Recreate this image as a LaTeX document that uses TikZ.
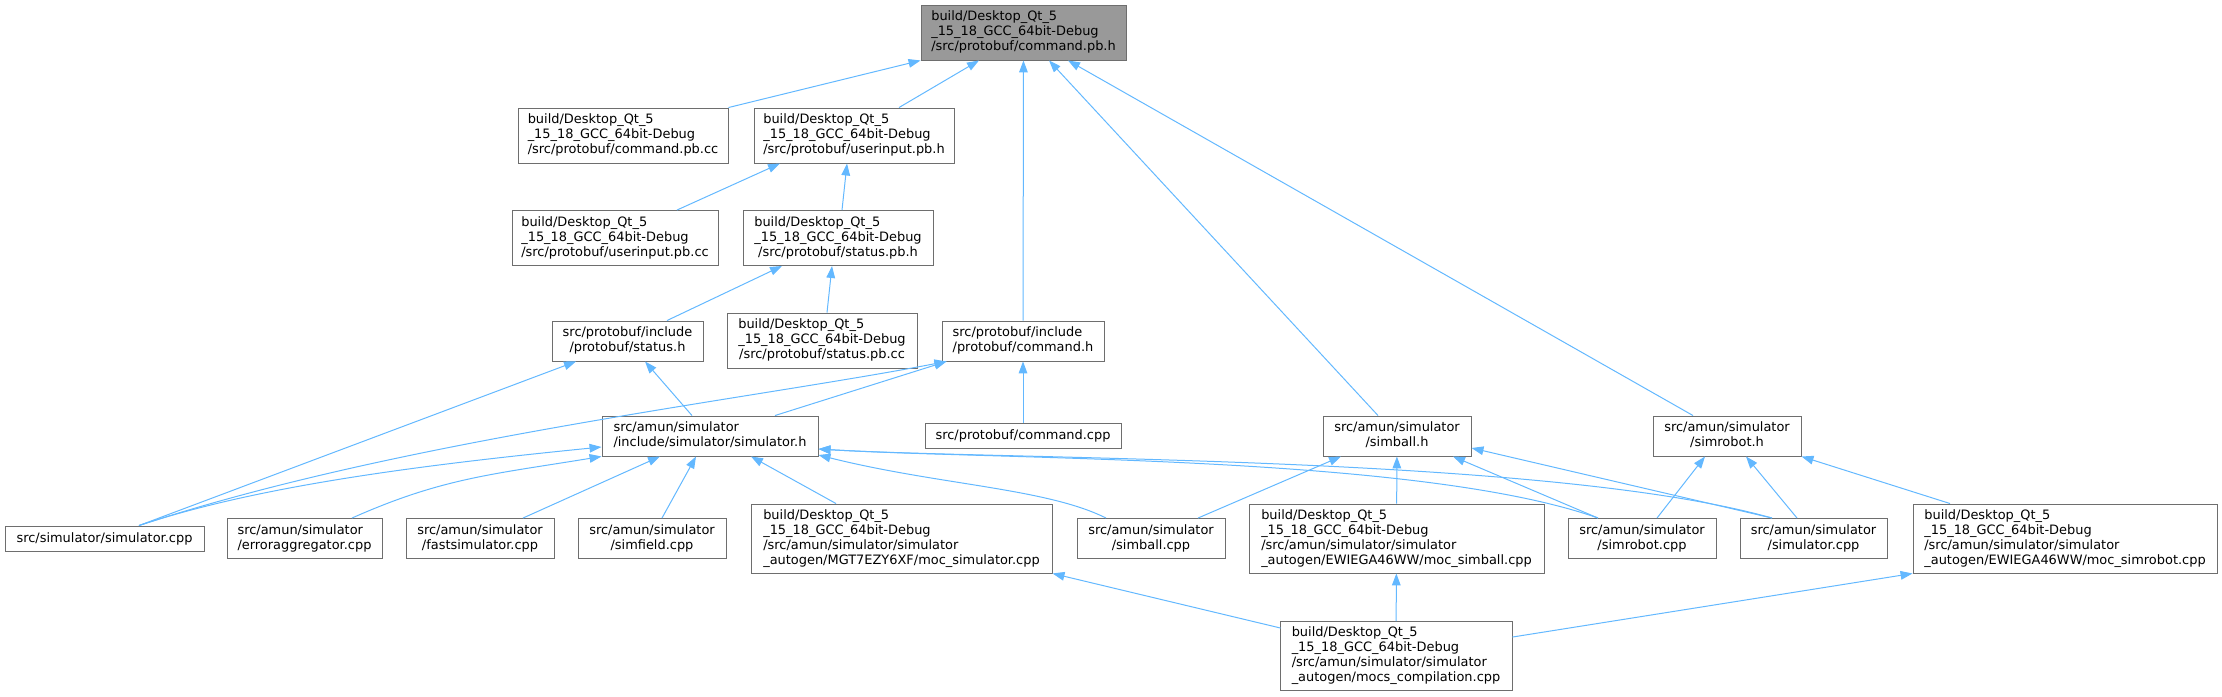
\documentclass[tikz,border=0pt]{standalone}
\usepackage{fontspec}
\setmainfont{DejaVu Sans}
\usepackage{xcolor}
\usepackage{tikz}
\usetikzlibrary{arrows.meta, calc}
\definecolor{depblue}{HTML}{63B8FF}
\definecolor{boxgray}{HTML}{6E6E6E}
\definecolor{rootgray}{HTML}{999999}
% lines left aligned, last line centred
\newcommand{\fname}[2]{\begin{tabular}{@{}l@{}}#1\\\multicolumn{1}{@{}c@{}}{#2}\end{tabular}}
\newcommand{\bdir}{build/Desktop\_Qt\_5\\\_15\_18\_GCC\_64bit-Debug}

\begin{document}
\begin{tikzpicture}[
    x=0.75pt, y=-0.75pt,
    box/.style={draw=boxgray, line width=0.7pt, fill=white, inner sep=1pt,
                font=\fontsize{9.7}{11.25}\selectfont},
    h1/.style={minimum height=18.75pt},
    h2/.style={minimum height=30pt},
    h3/.style={minimum height=41.25pt},
    h4/.style={minimum height=51.75pt},
    dep/.style={-{Triangle[length=9pt,width=6.5pt]}, draw=depblue, line width=0.75pt}
  ]
    \useasboundingbox (0,0) rectangle (2222,696);

    \node[box,h3,fill=rootgray,minimum width=153.75pt] (root) at (1023.5,32.5)
      {\fname{\bdir}{/src/protobuf/command.pb.h}};

    \node[box,h3,minimum width=157.5pt] (cmdpbcc) at (623,135.5)
      {\fname{\bdir}{/src/protobuf/command.pb.cc}};
    \node[box,h3,minimum width=150pt] (uipbh) at (854,135.5)
      {\fname{\bdir}{/src/protobuf/userinput.pb.h}};

    \node[box,h3,minimum width=154.5pt] (uipbcc) at (615,238)
      {\fname{\bdir}{/src/protobuf/userinput.pb.cc}};
    \node[box,h3,minimum width=142.5pt] (statuspbh) at (838,238)
      {\fname{\bdir}{/src/protobuf/status.pb.h}};

    \node[box,h2,minimum width=113.25pt] (statush) at (627.5,341)
      {\fname{src/protobuf/include}{/protobuf/status.h}};
    \node[box,h3,minimum width=142.5pt] (statuspbcc) at (822,340.5)
      {\fname{\bdir}{/src/protobuf/status.pb.cc}};
    \node[box,h2,minimum width=121.5pt] (commandh) at (1023,341)
      {\fname{src/protobuf/include}{/protobuf/command.h}};

    \node[box,h1,minimum width=147pt] (commandcpp) at (1023,436) {src/protobuf/command.cpp};
    \node[box,h2,minimum width=162pt] (simh) at (710,436)
      {\fname{src/amun/simulator}{/include/simulator/simulator.h}};
    \node[box,h2,minimum width=111pt] (simballh) at (1397,436)
      {\fname{src/amun/simulator}{/simball.h}};
    \node[box,h2,minimum width=111pt] (simroboth) at (1727,436)
      {\fname{src/amun/simulator}{/simrobot.h}};

    \node[box,h1,minimum width=149.25pt] (simcpp) at (104.5,538.5) {src/simulator/simulator.cpp};
    \node[box,h2,minimum width=116.25pt] (erragg) at (304.5,538.5)
      {\fname{src/amun/simulator}{/erroraggregator.cpp}};
    \node[box,h2,minimum width=111pt] (fastsim) at (480,538.5)
      {\fname{src/amun/simulator}{/fastsimulator.cpp}};
    \node[box,h2,minimum width=111pt] (simfield) at (652,538.5)
      {\fname{src/amun/simulator}{/simfield.cpp}};
    \node[box,h4,minimum width=225.75pt] (mocsim) at (901.5,538.5)
      {\fname{\bdir\\/src/amun/simulator/simulator}{\_autogen/MGT7EZY6XF/moc\_simulator.cpp}};
    \node[box,h2,minimum width=111pt] (simballcpp) at (1151,538.5)
      {\fname{src/amun/simulator}{/simball.cpp}};
    \node[box,h4,minimum width=221.25pt] (mocsimball) at (1396.5,538.5)
      {\fname{\bdir\\/src/amun/simulator/simulator}{\_autogen/EWIEGA46WW/moc\_simball.cpp}};
    \node[box,h2,minimum width=111pt] (simrobotcpp) at (1642,538.5)
      {\fname{src/amun/simulator}{/simrobot.cpp}};
    \node[box,h2,minimum width=110.25pt] (amunsimcpp) at (1813.5,538.5)
      {\fname{src/amun/simulator}{/simulator.cpp}};
    \node[box,h4,minimum width=228pt] (mocsimrobot) at (2065,538.5)
      {\fname{\bdir\\/src/amun/simulator/simulator}{\_autogen/EWIEGA46WW/moc\_simrobot.cpp}};

    \node[box,h4,minimum width=174pt] (mocscomp) at (1396,656)
      {\fname{\bdir\\/src/amun/simulator/simulator}{\_autogen/mocs\_compilation.cpp}};

    % into command.pb.h
    \draw[dep] (cmdpbcc.north east) -- (root.south west);
    \draw[dep] ($(uipbh.north)+(45,0)$) -- ($(root.south)+(-44.5,0)$);
    \draw[dep] (commandh) -- (root);
    \draw[dep] ($(simballh.north)+(-19,0)$) -- ($(root.south)+(25.5,0)$);
    \draw[dep] ($(simroboth.north)+(-34,0)$) -- ($(root.south)+(44.5,0)$);

    \draw[dep] ($(uipbcc.north)+(62,0)$) -- ($(uipbh.south)+(-74,0)$);
    \draw[dep] ($(statuspbh.north)+(4,0)$) -- ($(uipbh.south)+(-7,0)$);
    \draw[dep] ($(statush.north)+(39.5,0)$) -- ($(statuspbh.south)+(-56,0)$);
    \draw[dep] ($(statuspbcc.north)+(5,0)$) -- ($(statuspbh.south)+(-6,0)$);

    \draw[dep] ($(simcpp.north)+(34.5,0)$) -- ($(statush.south)+(-51.5,0)$);
    \draw[dep] ($(simh.north)+(-18,0)$) -- ($(statush.south)+(17.5,0)$);

    \draw[dep] ($(simcpp.north)+(34.5,0)$) .. controls +(261,-86) and +(-197,38) .. ($(commandh.south west)+(5,0)$);
    \draw[dep] ($(simh.north)+(65,0)$) -- ($(commandh.south west)+(5,0)$);
    \draw[dep] (commandcpp) -- (commandh);

    % into simulator.h
    \draw[dep] ($(simcpp.north)+(34.5,0)$) .. controls +(120,-40) and +(-180,18) .. ($(simh.west)+(0,11)$);
    \draw[dep] ($(erragg.north)+(47.5,0)$) .. controls +(90,-40) and +(-110,18) .. (simh.south west);
    \draw[dep] ($(fastsim.north)+(43,0)$) -- ($(simh.south)+(-50,0)$);
    \draw[dep] ($(simfield.north)+(10,0)$) -- ($(simh.south)+(-14,0)$);
    \draw[dep] ($(mocsim.north)+(-65.5,0)$) -- ($(simh.south)+(41,0)$);
    \draw[dep] ($(simballcpp.north)+(-45,0)$) .. controls +(-60,-30) and +(120,30) .. ($(simh.east)+(0,19)$);
    \draw[dep] ($(simrobotcpp.north)+(-44,0)$) .. controls +(-178,-63) and +(182,11) .. ($(simh.east)+(0,13)$);
    \draw[dep] ($(amunsimcpp.north)+(-41.5,0)$) .. controls +(-222,-63) and +(182,11) .. ($(simh.east)+(0,13)$);

    % into simball.h and simrobot.h
    \draw[dep] ($(simballcpp.north)+(47,0)$) -- ($(simballh.south)+(-56,0)$);
    \draw[dep] (mocsimball) -- (simballh);
    \draw[dep] ($(simrobotcpp.north)+(-44,0)$) -- ($(simballh.south)+(56,0)$);
    \draw[dep] ($(amunsimcpp.north)+(-41.5,0)$) -- ($(simballh.east)+(0,12)$);
    \draw[dep] ($(simrobotcpp.north)+(15,0)$) -- ($(simroboth.south)+(-22,0)$);
    \draw[dep] ($(amunsimcpp.north)+(-16.5,0)$) -- ($(simroboth.south)+(19,0)$);
    \draw[dep] ($(mocsimrobot.north)+(-115,0)$) -- (simroboth.south east);

    \draw[dep] ($(mocscomp.north west)+(1,7)$) -- (mocsim.south east);
    \draw[dep] (mocscomp) -- (mocsimball);
    \draw[dep] ($(mocscomp.north east)+(0,16)$) -- (mocsimrobot.south west);
  \end{tikzpicture}
\end{document}
